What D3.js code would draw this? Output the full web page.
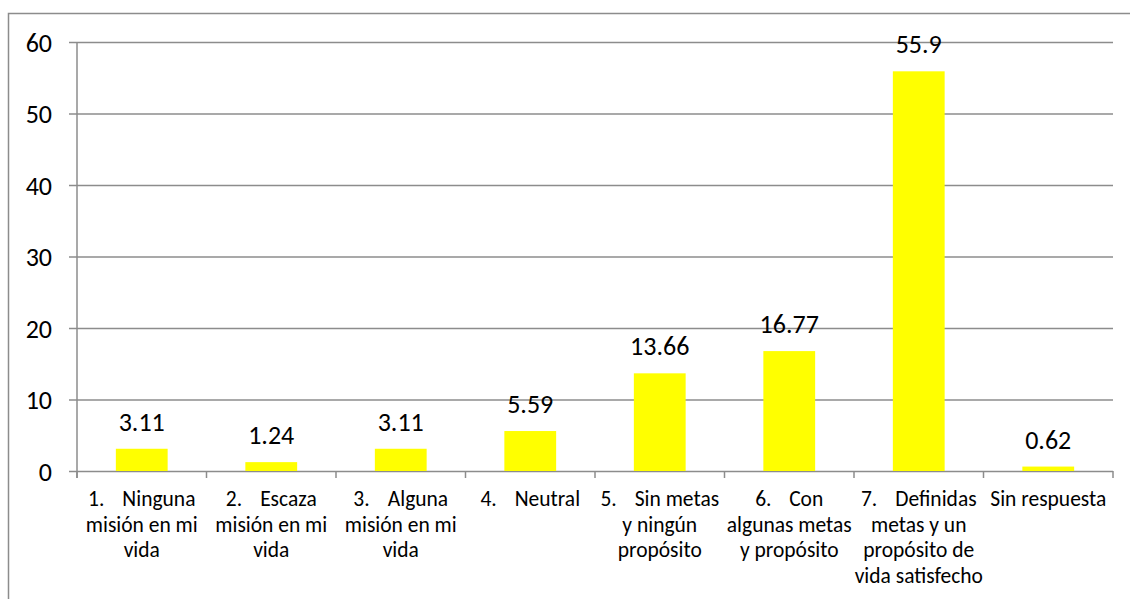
<!DOCTYPE html>
<html>
<head>
<meta charset="utf-8">
<script src="https://cdn.jsdelivr.net/npm/d3@7"></script>
<style>
  body { margin: 0; background: #fff; }
  text { font-family: Carlito, Calibri, Lato, sans-serif; fill: #000; }
</style>
</head>
<body>
<svg id="chart"></svg>
<script>
// categories, tab separates the list number from the text, \n is a line break
var categories = [
  "1.\tNinguna\nmisión en mi\nvida",
  "2.\tEscaza\nmisión en mi\nvida",
  "3.\tAlguna\nmisión en mi\nvida",
  "4.\tNeutral",
  "5.\tSin metas\ny ningún\npropósito",
  "6.\tCon\nalgunas metas\ny propósito",
  "7.\tDefinidas\nmetas y un\npropósito de\nvida satisfecho",
  "Sin respuesta"
];
var values = [3.11, 1.24, 3.11, 5.59, 13.66, 16.77, 55.9, 0.62];
var yTicks = [0, 10, 20, 30, 40, 50, 60];

var width = 1130;
var height = 599;
var margin = { top: 42, right: 17, bottom: 128, left: 77 };

var svg = d3.select("#chart")
  .attr("width", width)
  .attr("height", height);

// outer chart border (runs off the right and bottom of the picture)
svg.append("rect")
  .attr("x", 8.5)
  .attr("y", 13.5)
  .attr("width", 1400)
  .attr("height", 900)
  .attr("fill", "none")
  .attr("stroke", "#8c8c8c")
  .attr("stroke-width", 1.5);

var x = d3.scaleBand()
  .domain(categories)
  .range([margin.left, width - margin.right])
  .paddingInner(0.6)
  .paddingOuter(0.3);

var y = d3.scaleLinear()
  .domain([0, 60])
  .range([height - margin.bottom, margin.top]);

// gridlines + y axis labels
var yAxis = d3.axisLeft(y)
  .tickValues(yTicks)
  .tickSize(-(width - margin.left - margin.right))
  .tickPadding(25)
  .tickSizeOuter(0);

var gy = svg.append("g")
  .attr("transform", `translate(${margin.left},0)`)
  .call(yAxis);
gy.attr("font-family", null);
gy.select(".domain").remove();
gy.selectAll(".tick line")
  .attr("x1", -8)
  .attr("stroke", "#8c8c8c")
  .attr("stroke-width", 1.5);
gy.selectAll(".tick text")
  .style("font-size", "26px")
  .attr("dy", "0.35em");

// y axis line
svg.append("line")
  .attr("x1", margin.left)
  .attr("x2", margin.left)
  .attr("y1", y(60))
  .attr("y2", y(0) + 7)
  .attr("stroke", "#8c8c8c")
  .attr("stroke-width", 1.5);

// category boundary ticks below the axis
var boundaries = d3.range(categories.length + 1).map(function (i) {
  return margin.left + i * (width - margin.left - margin.right) / categories.length;
});
svg.append("g")
  .selectAll("line")
  .data(boundaries)
  .join("line")
  .attr("x1", d => d)
  .attr("x2", d => d)
  .attr("y1", y(0))
  .attr("y2", y(0) + 7)
  .attr("stroke", "#8c8c8c")
  .attr("stroke-width", 1.5);

// bars
svg.append("g")
  .selectAll("rect")
  .data(values)
  .join("rect")
  .attr("x", (d, i) => x(categories[i]))
  .attr("y", d => y(d))
  .attr("width", x.bandwidth())
  .attr("height", d => y(0) - y(d))
  .attr("fill", "#ffff00");

// data labels
svg.append("g")
  .selectAll("text")
  .data(values)
  .join("text")
  .attr("x", (d, i) => x(categories[i]) + x.bandwidth() / 2)
  .attr("y", d => y(d) - 18)
  .attr("text-anchor", "middle")
  .style("font-size", "26px")
  .text(d => d);

// category labels
var lineHeight = 25.7;
svg.append("g")
  .selectAll("text")
  .data(categories)
  .join("text")
  .attr("text-anchor", "middle")
  .style("font-size", "21.5px")
  .each(function (d) {
    var t = d3.select(this);
    var cx = x(d) + x.bandwidth() / 2;
    d.split("\n").forEach(function (line, k) {
      var parts = line.split("\t");
      t.append("tspan")
        .attr("x", cx)
        .attr("y", y(0) + 35 + k * lineHeight)
        .text(parts[0]);
      if (parts.length > 1) {
        t.append("tspan").attr("dx", 18).text(parts[1]);
      }
    });
  });
</script>
</body>
</html>
